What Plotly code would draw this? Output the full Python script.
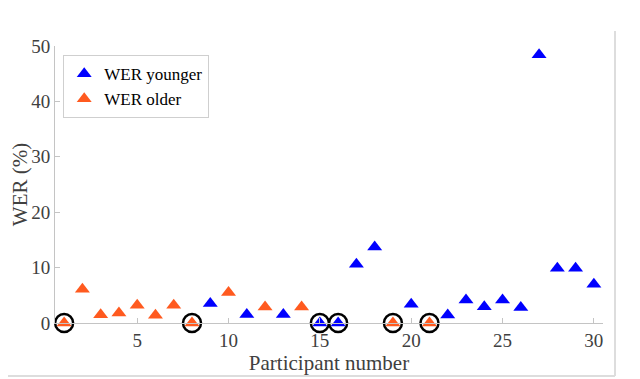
import plotly.graph_objects as go

# Data
older_participants = [1, 2, 3, 4, 5, 6, 7, 8, 10, 12, 14, 19, 21]
older_wer = [0, 6.1, 1.5, 1.8, 3.2, 1.4, 3.2, 0, 5.5, 2.9, 2.9, 0, 0]

younger_participants = [9, 11, 13, 15, 16, 17, 18, 20, 22, 23, 24, 25, 26, 27, 28, 29, 30]
younger_wer = [3.5, 1.55, 1.55, 0, 0, 10.6, 13.7, 3.4, 1.45, 4.15, 2.95, 4.15, 2.8, 48.4, 9.9, 9.9, 7.0]

circled_participants = [1, 8, 15, 16, 19, 21]
circled_wer = [0, 0, 0, 0, 0, 0]

x_ticks = [5, 10, 15, 20, 25, 30]
y_ticks = [0, 10, 20, 30, 40, 50]

BLUE = "#0000FF"
ORANGE = "#FF5A1F"
FONT = "Liberation Serif"
GREY_TXT = "#404040"
AXIS_GREY = "#c4c4c4"

fig = go.Figure()

fig.add_trace(go.Scatter(
    x=circled_participants, y=circled_wer, mode="markers",
    marker=dict(symbol="circle-open", size=18, color="black", line=dict(width=2.5, color="black")),
    showlegend=False, cliponaxis=False, hoverinfo="skip"))

fig.add_trace(go.Scatter(
    x=younger_participants, y=younger_wer, mode="markers", name="WER younger",
    marker=dict(symbol="triangle-up", size=13, color=BLUE, line=dict(width=0)),
    cliponaxis=False))

fig.add_trace(go.Scatter(
    x=older_participants, y=older_wer, mode="markers", name="WER older",
    marker=dict(symbol="triangle-up", size=13, color=ORANGE, line=dict(width=0)),
    cliponaxis=False))

# the page body adds an 8px margin, so the figure is 8px smaller than the window
fig.update_layout(
    width=632, height=371,
    margin=dict(l=47, r=37, t=38, b=56, autoexpand=False),
    paper_bgcolor="white", plot_bgcolor="white",
    font=dict(family=FONT, color=GREY_TXT, size=18),
    legend=dict(x=0.015, y=0.967, xanchor="left", yanchor="top",
                bgcolor="white", bordercolor="#cfcfcf", borderwidth=1,
                font=dict(family=FONT, size=17, color="black"),
                itemwidth=30, tracegroupgap=0),
    xaxis=dict(range=[0.5, 30.5], tickvals=x_ticks, ticks="inside", ticklen=5,
               tickcolor=AXIS_GREY, showline=True, linecolor=AXIS_GREY, linewidth=1,
               showgrid=False, zeroline=False, automargin=False,
               tickfont=dict(family=FONT, size=19, color=GREY_TXT),
               title=dict(text="Participant number", font=dict(family=FONT, size=21, color=GREY_TXT), standoff=4)),
    yaxis=dict(range=[0, 50], tickvals=y_ticks, ticks="inside", ticklen=5,
               tickcolor=AXIS_GREY, showline=True, linecolor=AXIS_GREY, linewidth=1,
               showgrid=False, zeroline=False, automargin=False,
               tickfont=dict(family=FONT, size=19, color=GREY_TXT),
               title=dict(text="WER (%)", font=dict(family=FONT, size=21, color=GREY_TXT), standoff=4)),
    shapes=[
        dict(type="line", xref="paper", yref="paper", x0=1.0219, x1=1.0219, y0=1.054, y1=-0.1913,
             line=dict(color="#dddddd", width=2)),
        dict(type="line", xref="paper", yref="paper", x0=-0.11, x1=1.0219, y0=-0.1913, y1=-0.1913,
             line=dict(color="#dddddd", width=2)),
    ],
)

fig.write_html("out.html")
